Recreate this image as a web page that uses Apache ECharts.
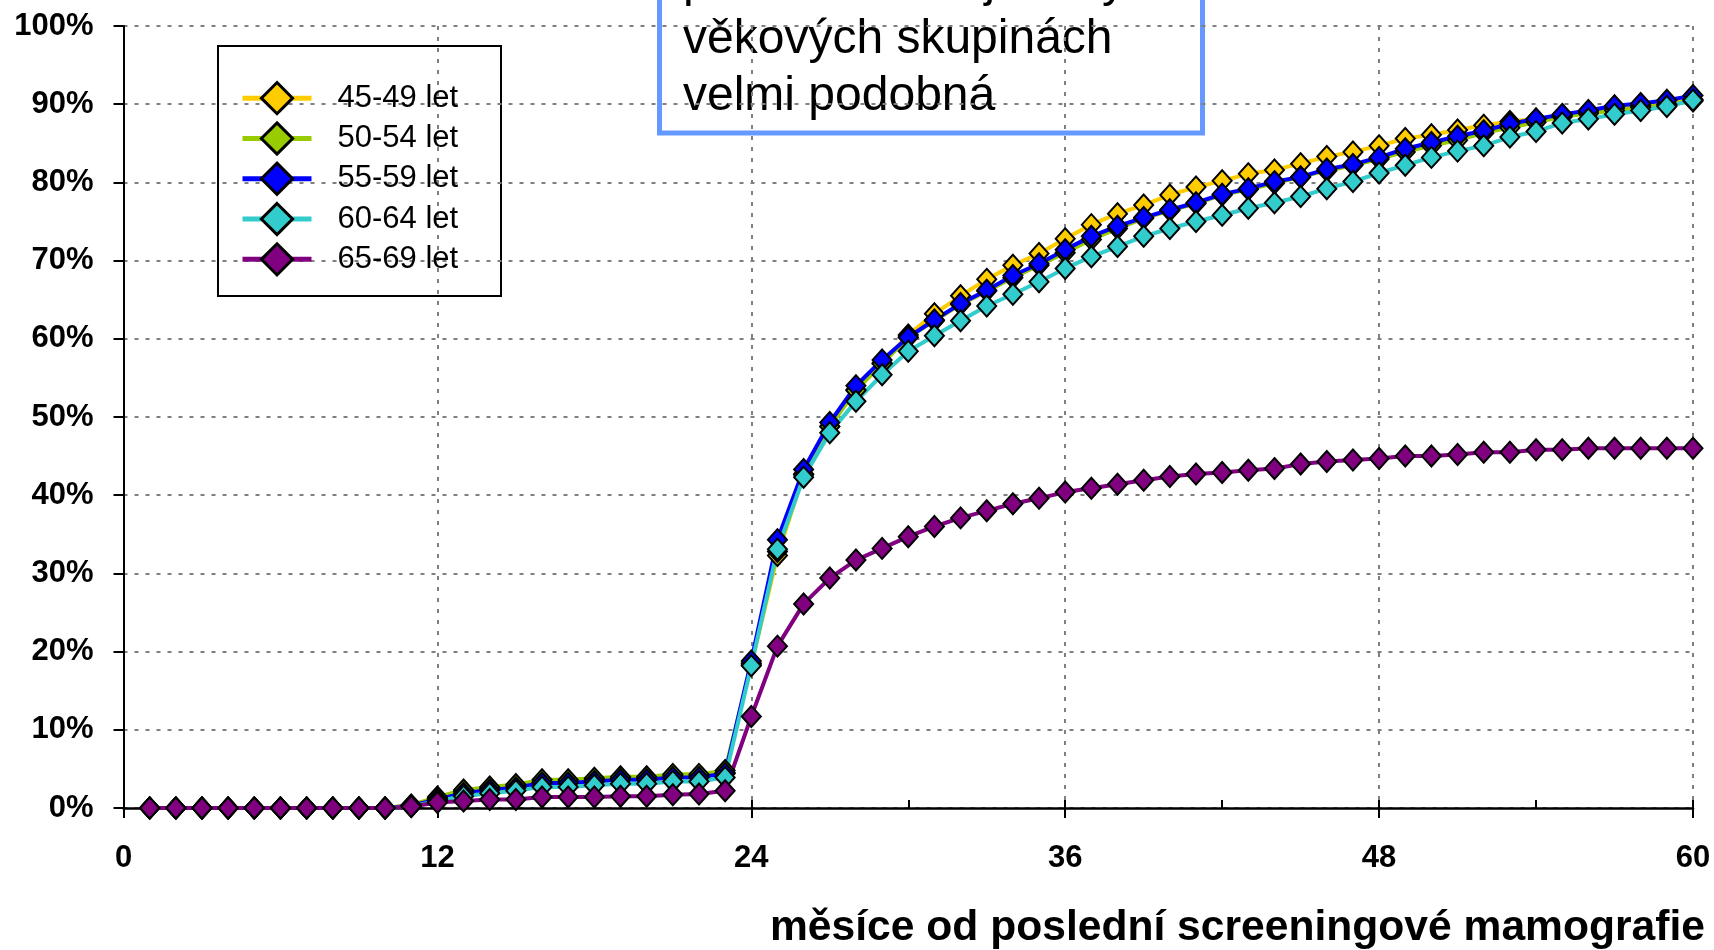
<!DOCTYPE html>
<html>
<head>
<meta charset="utf-8">
<script src="https://cdn.jsdelivr.net/npm/echarts@6/dist/echarts.min.js"></script>
<style>
html,body{margin:0;padding:0;background:#fff;}
#chart{width:1714px;height:950px;}
</style>
</head>
<body>
<div id="chart"></div>
<script>
// ---- data (months since last screening mammography, cumulative %) ----
var months = [1,2,3,4,5,6,7,8,9,10,11,12,13,14,15,16,17,18,19,20,21,22,23,24,25,26,27,28,29,30,31,32,33,34,35,36,37,38,39,40,41,42,43,44,45,46,47,48,49,50,51,52,53,54,55,56,57,58,59,60];
var seriesNames = ['45-49 let','50-54 let','55-59 let','60-64 let','65-69 let'];
var xTicks = [0,12,24,36,48,60];
var yTicks = [0,10,20,30,40,50,60,70,80,90,100];

var v4549 = [0,0,0,0,0,0,0,0,0,0,0.3,1.2,2.1,2.5,2.8,3.3,3.4,3.6,3.8,3.8,4.1,4.1,4.5,
  18.3,32.3,42.6,48.8,53.5,56.9,60.5,63.2,65.5,67.6,69.4,70.9,72.8,74.6,76.0,77.1,78.4,79.4,80.2,81.1,81.6,82.4,83.3,83.9,84.7,85.6,86.1,86.7,87.3,87.8,88.1,88.6,89.0,89.5,89.8,90.0,90.6];
var v5054 = [0,0,0,0,0,0,0,0,0,0,0.4,1.4,2.3,2.7,3.0,3.6,3.6,3.8,4.0,4.0,4.3,4.3,4.8,
  18.5,32.8,42.7,48.8,53.4,56.8,60.2,62.3,64.4,66.1,67.8,69.4,71.0,72.7,74.1,75.4,76.4,77.3,78.4,79.1,79.9,80.7,81.5,82.2,83.0,83.9,84.7,85.4,86.3,87.0,87.7,88.4,88.8,89.2,89.6,89.9,90.4];
var v5559 = [0,0,0,0,0,0,0,0,0,0,0.3,1.1,1.9,2.3,2.6,3.2,3.2,3.4,3.6,3.6,3.9,3.9,4.4,
  18.8,34.3,43.3,49.3,54.0,57.3,60.2,62.4,64.5,66.2,68.1,69.6,71.4,73.1,74.4,75.5,76.5,77.4,78.5,79.2,80.1,80.7,81.7,82.3,83.2,84.3,85.1,85.9,86.6,87.5,88.1,88.7,89.2,89.8,90.1,90.5,91.1];
var v6064 = [0,0,0,0,0,0,0,0,0,0,0.2,0.9,1.5,1.9,2.2,2.7,2.7,2.9,3.1,3.1,3.4,3.4,3.9,
  18.2,33.1,42.3,48.0,52.0,55.4,58.4,60.4,62.3,64.2,65.7,67.3,69.0,70.5,71.8,73.1,74.1,75.0,75.8,76.7,77.4,78.2,79.2,80.1,81.2,82.2,83.2,84.0,84.7,85.8,86.5,87.6,88.1,88.7,89.2,89.7,90.5];
var v6569 = [0,0,0,0,0,0,0,0,0,0,0.2,0.7,0.9,1.1,1.1,1.4,1.4,1.4,1.5,1.5,1.7,1.8,2.2,
  11.7,20.7,26.1,29.4,31.7,33.2,34.7,36.0,37.1,38.0,38.9,39.6,40.4,40.9,41.4,41.9,42.4,42.7,42.9,43.2,43.4,44.0,44.3,44.5,44.7,45.0,45.0,45.2,45.5,45.5,45.8,45.8,46.0,46.0,46.0,46.0,46.0];

var noteLines = ['průběh křivek je tedy', 'věkových skupinách', 'velmi podobná'];
var xAxisTitle = 'měsíce od poslední screeningové mamografie';

var colors = ['#FFCC00','#99CC00','#0000FF','#33CCCC','#800080'];
var values = [v4549, v5054, v5559, v6064, v6569];

var FONT = '"Liberation Sans", Arial, sans-serif';

function pairs(arr){ return months.map(function(m,i){ return [m, arr[i]]; }); }

var series = seriesNames.map(function(name, i){
  return {
    name: name,
    type: 'line',
    xAxisIndex: 0,
    data: pairs(values[i]),
    symbol: 'diamond',
    symbolSize: [19, 21],
    clip: false,
    lineStyle: {color: colors[i], width: 4},
    itemStyle: {color: colors[i], borderColor: '#000', borderWidth: 2},
    emphasis: {disabled: true}
  };
});

var chart = echarts.init(document.getElementById('chart'), null, {renderer: 'canvas'});
chart.setOption({
  animation: false,
  backgroundColor: '#fff',
  textStyle: {fontFamily: FONT},
  grid: {left: 123.5, right: 21, top: 26, bottom: 140, containLabel: false},
  xAxis: [{
    type: 'value', min: 0, max: 60, interval: 12,
    axisLine: {show: true, lineStyle: {color: '#000', width: 2.5}},
    axisTick: {show: true, inside: false, length: 10, lineStyle: {color: '#000', width: 2}},
    axisLabel: {color: '#000', fontSize: 31, fontWeight: 'bold', fontFamily: FONT, margin: 35,
      formatter: function(v){ return xTicks.indexOf(v) >= 0 ? String(v) : ''; }},
    splitLine: {show: true, lineStyle: {color: '#808080', width: 2, type: [4, 7]}},
    name: xAxisTitle,
    nameLocation: 'end',
    nameGap: 12,
    nameTextStyle: {color: '#000', fontSize: 42.6, fontWeight: 'bold', fontFamily: FONT,
      align: 'right', verticalAlign: 'top', padding: [99, 0, 0, 0]}
  }, {
    type: 'value', min: 0, max: 60, interval: 6, position: 'bottom',
    axisLine: {show: false},
    axisTick: {show: true, inside: true, length: 8, lineStyle: {color: '#000', width: 2}},
    axisLabel: {show: false},
    splitLine: {show: false}
  }],
  yAxis: {
    type: 'value', min: 0, max: 100, interval: 10,
    axisLine: {show: true, lineStyle: {color: '#000', width: 2}},
    axisTick: {show: true, inside: false, length: 10, lineStyle: {color: '#000', width: 2}},
    axisLabel: {color: '#000', fontSize: 31, fontWeight: 'bold', fontFamily: FONT, margin: 30,
      formatter: function(v){ return yTicks.indexOf(v) >= 0 ? v + '%' : ''; }},
    splitLine: {show: true, lineStyle: {color: '#808080', width: 2, type: [4, 7]}}
  },
  legend: {
    show: true,
    orient: 'vertical',
    left: 240, top: 78,
    padding: 0,
    itemWidth: 69, itemHeight: 39, itemGap: 0,
    selectedMode: false,
    data: seriesNames,
    lineStyle: {width: 5},
    itemStyle: {borderColor: '#000', borderWidth: 3},
    textStyle: {color: '#000', fontSize: 31, lineHeight: 40.3, fontFamily: FONT, padding: [0, 0, 0, 21]}
  },
  graphic: [
    {type: 'rect', left: 217, top: 45, z: 0,
      shape: {width: 283, height: 250}, style: {fill: '#fff', stroke: '#000', lineWidth: 2}},
    {type: 'group', z: 100, children: [
      {type: 'rect', shape: {x: 659.5, y: -20, width: 543, height: 153},
        style: {fill: '#fff', stroke: '#6699FF', lineWidth: 5}},
      {type: 'text', x: 683, y: -46,
        style: {text: noteLines.join('\n'), font: '48px ' + FONT, fill: '#000',
          lineHeight: 57, verticalAlign: 'top', align: 'left'}}
    ]}
  ],
  series: series
});
</script>
</body>
</html>
